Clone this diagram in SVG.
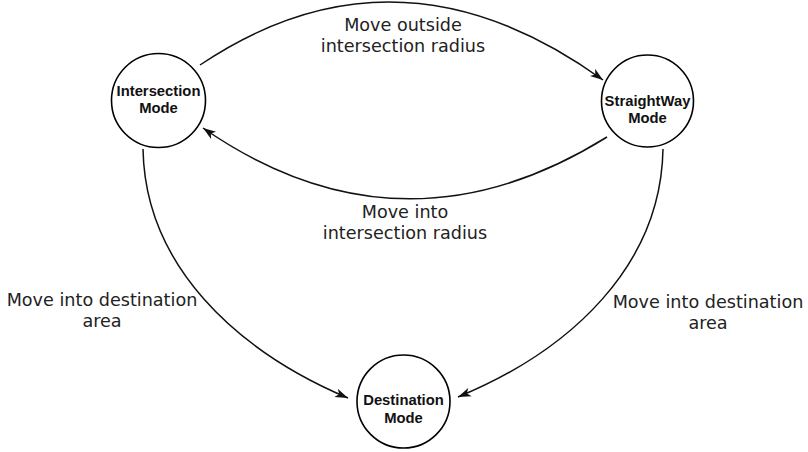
<svg xmlns="http://www.w3.org/2000/svg" width="808" height="452" viewBox="0 0 808 452">
  <style>
    .state circle { fill: #ffffff; stroke: #000000; stroke-width: 1.6; }
    .state text { font-family: "Liberation Sans", Arial, sans-serif; font-weight: bold; font-size: 14.8px; fill: #111111; text-anchor: middle; }
    .edge { fill: none; stroke: #111111; stroke-width: 1.5; marker-end: url(#arrow); }
    .label { font-family: "DejaVu Sans", sans-serif; font-size: 17.6px; fill: #222222; text-anchor: middle; }
  </style>
  <defs>
    <marker id="arrow" markerUnits="userSpaceOnUse" markerWidth="14" markerHeight="10" viewBox="0 0 14 10" refX="13" refY="5" orient="auto">
      <path d="M0,0.5 L13,5 L0,9.5 L3.5,5 Z" fill="#111111"/>
    </marker>
  </defs>

  <rect width="808" height="452" fill="#ffffff"/>

  <!-- transitions -->
  <g id="connectors">
    <path class="edge" d="M200,65 Q398,-68 603,80"/>
    <path class="edge" d="M607,137 Q401,265 203,128"/>
    <path class="edge" d="M143,149 C145,265 235,350 348,398"/>
    <path class="edge" d="M663,149 C661,265 572,350 458,397"/>
  </g>

  <!-- transition labels -->
  <g id="labels">
    <text class="label" x="403" y="31">Move outside</text>
    <text class="label" x="403" y="52">intersection radius</text>
    <text class="label" x="405" y="218">Move into</text>
    <text class="label" x="405" y="239">intersection radius</text>
    <text class="label" x="102" y="306">Move into destination</text>
    <text class="label" x="102" y="327">area</text>
    <text class="label" x="708" y="308">Move into destination</text>
    <text class="label" x="708" y="329">area</text>
  </g>

  <!-- states -->
  <g id="intersection-mode" class="state">
    <circle cx="158.5" cy="100.5" r="47"/>
    <text x="158.5" y="96">Intersection</text>
    <text x="158.5" y="113">Mode</text>
  </g>
  <g id="straightway-mode" class="state">
    <circle cx="647.5" cy="101" r="46"/>
    <text x="647.5" y="106">StraightWay</text>
    <text x="647.5" y="123">Mode</text>
  </g>
  <g id="destination-mode" class="state">
    <circle cx="403.5" cy="401.5" r="46.5"/>
    <text x="403.5" y="405">Destination</text>
    <text x="403.5" y="423">Mode</text>
  </g>
</svg>
